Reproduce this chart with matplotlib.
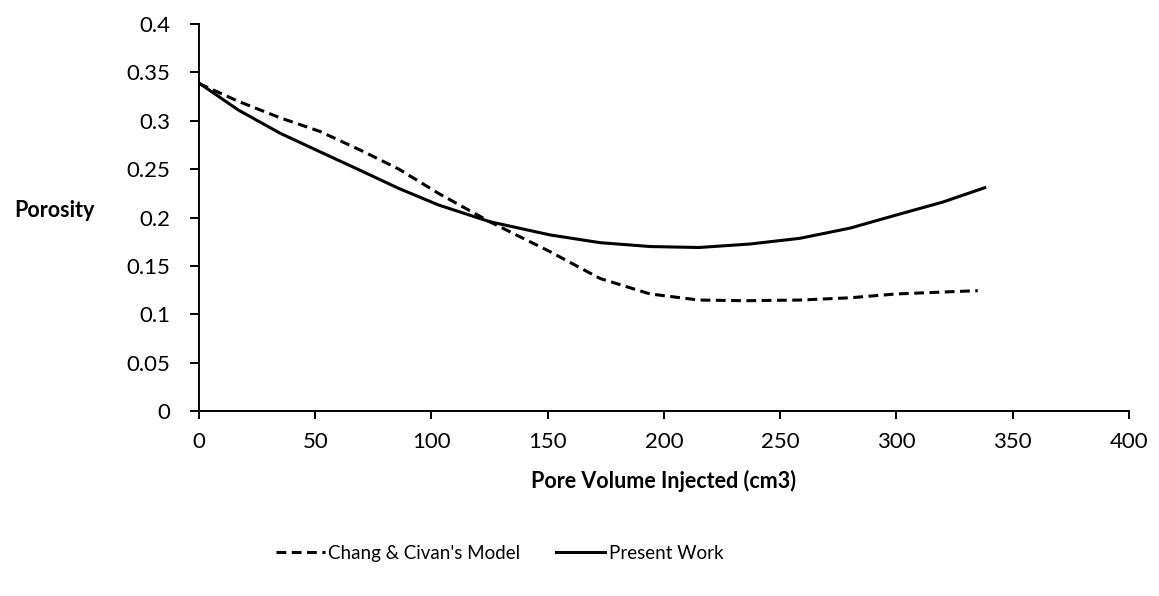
import matplotlib
matplotlib.use("Agg")
import matplotlib.pyplot as plt
from matplotlib.ticker import FuncFormatter

plt.rcParams['font.family'] = ['Lato', 'DejaVu Sans']

# Data
present_x = [0, 17, 35, 52, 70, 86, 103, 125, 151, 172.5, 194, 215, 237, 258.5, 280, 300, 320, 338]
present_y = [0.339, 0.311, 0.287, 0.268, 0.248, 0.230, 0.213, 0.1957, 0.182, 0.174, 0.170, 0.169,
             0.1726, 0.1785, 0.189, 0.2026, 0.216, 0.2308]

chang_x = [0, 17, 35, 52, 70, 86, 103, 125, 151, 172.5, 194, 215, 235, 258.5, 280, 300, 335]
chang_y = [0.3385, 0.320, 0.303, 0.289, 0.269, 0.250, 0.225, 0.1957, 0.1647, 0.137, 0.121, 0.1147,
           0.114, 0.1147, 0.117, 0.121, 0.1244]

x_ticks = [0, 50, 100, 150, 200, 250, 300, 350, 400]
y_ticks = [0, 0.05, 0.1, 0.15, 0.2, 0.25, 0.3, 0.35, 0.4]

fig = plt.figure(figsize=(11.59, 5.96), dpi=100)
ax = fig.add_axes([0.1717, 0.3104, 0.8023, 0.6493])

ax.plot(chang_x, chang_y, color='black', lw=2.2, linestyle=(0, (3.2, 1.8)),
        label="Chang & Civan's Model")
ax.plot(present_x, present_y, color='black', lw=2.2, label='Present Work')

ax.set_xlim(0, 400)
ax.set_ylim(0, 0.4)
ax.set_xticks(x_ticks)
ax.set_yticks(y_ticks)
ax.yaxis.set_major_formatter(FuncFormatter(lambda v, p: ('%g' % round(v, 3))))

for s in ['top', 'right']:
    ax.spines[s].set_visible(False)
for s in ['left', 'bottom']:
    ax.spines[s].set_linewidth(1.4)
ax.tick_params(axis='both', direction='out', width=1.4, labelsize=16, colors='black')
ax.tick_params(axis='x', length=6, pad=9)
ax.tick_params(axis='y', length=6.5, pad=14)

ax.set_xlabel('Pore Volume Injected (cm3)', fontsize=15.5, fontweight='bold', labelpad=13)
ax.set_ylabel('Porosity', fontsize=15.5, fontweight='bold', rotation=0)
ax.yaxis.set_label_coords(-0.155, 0.49)

fig.legend(loc='center', bbox_to_anchor=(0.431, 0.072), ncol=2, frameon=False,
           fontsize=13.5, handlelength=2.6, columnspacing=1.9, handletextpad=0.2)

fig.savefig('out.png', dpi=100)
